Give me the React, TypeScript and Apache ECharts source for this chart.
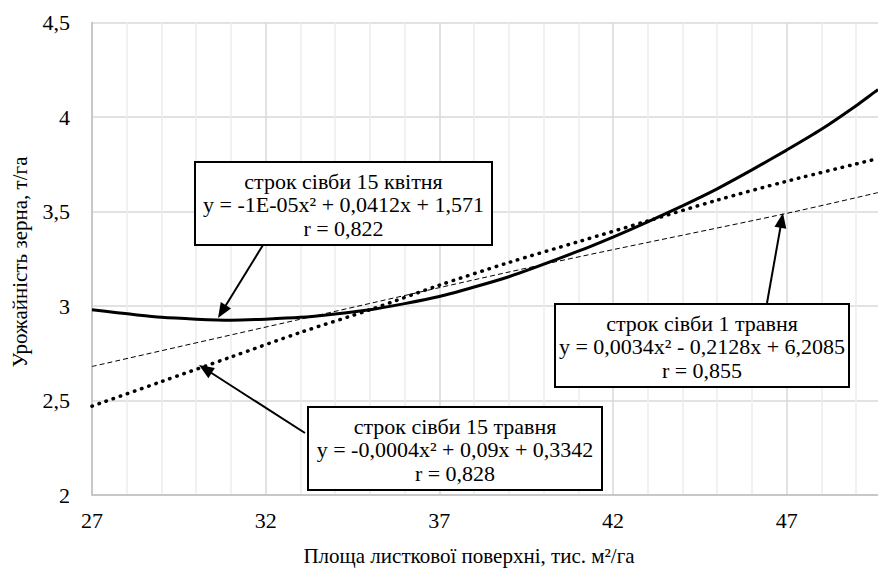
import React, { useEffect, useRef } from "react";
import * as echarts from "echarts";

// Series
const aprilX = [27, 29, 31, 33, 35, 37, 39, 41, 42, 43, 44, 45, 46, 47, 48, 49, 49.63];
const aprilY = [2.98, 2.94, 2.925, 2.94, 2.98, 3.05, 3.155, 3.29, 3.365, 3.445, 3.53, 3.62, 3.72, 3.825, 3.935, 4.06, 4.145];

const mayMidX = [27, 29, 31, 33, 35, 37, 39, 41, 43, 45, 47, 49.63];
const mayMidY = [2.47, 2.6, 2.73, 2.86, 2.98, 3.11, 3.23, 3.34, 3.45, 3.56, 3.66, 3.78];

const mayFirstX = [27, 33, 40, 47, 49.63];
const mayFirstY = [2.68, 2.93, 3.22, 3.49, 3.6];

const xMin = 27;
const xMax = 49.63;
const xLabelStep = 5;
const yMin = 2;
const yMax = 4.5;
const yStep = 0.5;

const box1Lines = ["строк сівби 15 квітня", "y = -1E-05x² + 0,0412x + 1,571", "r = 0,822"];
const box2Lines = ["строк сівби 15 травня", "y = -0,0004x² + 0,09x + 0,3342", "r = 0,828"];
const box3Lines = ["строк сівби 1 травня", "y = 0,0034x² - 0,2128x + 6,2085", "r = 0,855"];

const xTitle = "Площа листкової поверхні, тис. м²/га";
const yTitle = "Урожайність зерна, т/га";

const FONT = "Liberation Serif";

function zip(xs: number[], ys: number[]) {
  return xs.map((x, i) => [x, ys[i]]);
}

function arrow(x1: number, y1: number, x2: number, y2: number) {
  const dx = x2 - x1;
  const dy = y2 - y1;
  const len = Math.sqrt(dx * dx + dy * dy);
  const ux = dx / len;
  const uy = dy / len;
  const headLen = 15;
  const headW = 6;
  const bx = x2 - ux * headLen;
  const by = y2 - uy * headLen;
  return [
    {
      type: "line",
      z: 90,
      shape: { x1, y1, x2: bx + ux * 2, y2: by + uy * 2 },
      style: { stroke: "#000", lineWidth: 2 },
    },
    {
      type: "polygon",
      z: 90,
      shape: {
        points: [
          [x2, y2],
          [bx - uy * headW, by + ux * headW],
          [bx + uy * headW, by - ux * headW],
        ],
      },
      style: { fill: "#000" },
    },
  ];
}

function textEl(x: number, y: number, text: string, size: number, extra: any = {}) {
  return {
    type: "text",
    z: 101,
    x,
    y,
    ...extra,
    style: {
      text,
      fontFamily: FONT,
      fontSize: size,
      fill: "#000",
      align: "center",
      verticalAlign: "middle",
      textAlign: "center",
      textVerticalAlign: "middle",
      lineHeight: 23.5,
    },
  };
}

function box(x: number, y: number, w: number, h: number, lines: string[]) {
  return [
    {
      type: "rect",
      z: 100,
      shape: { x, y, width: w, height: h },
      style: { fill: "#fff", stroke: "#000", lineWidth: 2 },
    },
    textEl(x + w / 2, y + h / 2 + 1, lines.join("\n"), 22),
  ];
}

export default function App() {
  const ref = useRef<HTMLDivElement>(null);

  useEffect(() => {
    document.body.style.margin = "0";
    if (!ref.current) return;
    const chart = echarts.init(ref.current, null, { renderer: "svg" });
    const minorColor = "#ececec";
    const majorColor = "#d9d9d9";
    chart.setOption({
      animation: false,
      backgroundColor: "#fff",
      textStyle: { fontFamily: FONT },
      grid: { left: 92, right: 0, top: 22.5, bottom: 74, containLabel: false },
      xAxis: {
        type: "value",
        min: xMin,
        max: xMax,
        interval: 1,
        axisLine: { show: true, lineStyle: { color: "#bfbfbf", width: 1.5 } },
        axisTick: { show: false },
        axisLabel: {
          margin: 14,
          fontFamily: FONT,
          fontSize: 22,
          color: "#000",
          showMaxLabel: false,
          formatter: (v: number) => {
            const k = (v - xMin) / xLabelStep;
            return Math.abs(k - Math.round(k)) < 1e-6 ? String(Math.round(v)) : "";
          },
        },
        splitLine: {
          show: true,
          showMaxLine: false,
          lineStyle: {
            color: [majorColor, minorColor, minorColor, minorColor, minorColor],
            width: 1.5,
          },
        },
      },
      yAxis: {
        type: "value",
        min: yMin,
        max: yMax,
        interval: yStep,
        axisLine: { show: true, lineStyle: { color: "#bfbfbf", width: 1.5 } },
        axisTick: { show: false },
        axisLabel: {
          margin: 22,
          fontFamily: FONT,
          fontSize: 22,
          color: "#000",
          formatter: (v: number) => String(v).replace(".", ","),
        },
        splitLine: { show: true, lineStyle: { color: majorColor, width: 1.5 } },
      },
      series: [
        {
          name: "строк сівби 15 квітня",
          type: "line",
          data: zip(aprilX, aprilY),
          smooth: 0.2,
          showSymbol: false,
          lineStyle: { color: "#000", width: 3 },
        },
        {
          name: "строк сівби 15 травня",
          type: "line",
          data: zip(mayMidX, mayMidY),
          smooth: 0.3,
          showSymbol: false,
          lineStyle: { color: "#000", width: 3.5, type: [0.5, 7], cap: "round" },
        },
        {
          name: "строк сівби 1 травня",
          type: "line",
          data: zip(mayFirstX, mayFirstY),
          smooth: 0.3,
          showSymbol: false,
          lineStyle: { color: "#000", width: 1, type: [5, 3] },
        },
      ],
      graphic: [
        ...arrow(263, 245, 218, 318),
        ...arrow(305, 433, 199, 365),
        ...arrow(767, 303, 783, 213),
        ...box(195, 162, 297, 83, box1Lines),
        ...box(308, 407, 294, 83, box2Lines),
        ...box(555, 304, 294, 83, box3Lines),
        textEl(469, 556, xTitle, 21),
        textEl(20, 262, yTitle, 21, { rotation: Math.PI / 2 }),
      ],
    });
    return () => chart.dispose();
  }, []);

  return <div ref={ref} style={{ width: 878, height: 569 }} />;
}
